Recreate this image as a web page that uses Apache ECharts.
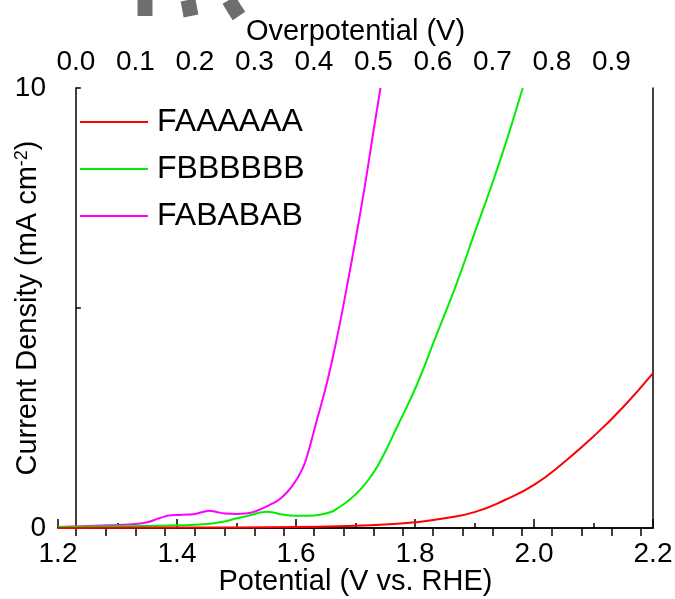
<!DOCTYPE html>
<html>
<head>
<meta charset="utf-8">
<script src="https://cdn.jsdelivr.net/npm/echarts@6/dist/echarts.min.js"></script>
<style>
  html, body { margin: 0; padding: 0; background: #fff; }
  #chart { width: 675px; height: 599px; }
</style>
</head>
<body>
<div id="chart"></div>
<script>
// potential (V vs. RHE) and current density (mA cm-2)
const redV = [1.2, 1.4, 1.6, 1.7, 1.75, 1.8, 1.85, 1.9, 1.95, 2.0, 2.05, 2.1, 2.15, 2.2]
const redJ = [0.0, 0.01, 0.02, 0.05, 0.08, 0.13, 0.22, 0.36, 0.63, 0.98, 1.49, 2.08, 2.75, 3.52]

const greenV = [1.2, 1.3, 1.4, 1.45, 1.48, 1.5, 1.52, 1.54, 1.55, 1.56, 1.575, 1.6, 1.62, 1.64, 1.66, 1.67, 1.69, 1.71, 1.725, 1.741, 1.77, 1.803, 1.835, 1.869, 1.9, 1.929, 1.955, 1.981]
const greenJ = [0.02, 0.04, 0.06, 0.09, 0.15, 0.22, 0.28, 0.35, 0.37, 0.36, 0.31, 0.28, 0.28, 0.3, 0.37, 0.45, 0.64, 0.9, 1.16, 1.5, 2.3, 3.25, 4.35, 5.52, 6.7, 7.8, 8.85, 10]

const magV = [1.2, 1.3, 1.33, 1.35, 1.37, 1.39, 1.41, 1.43, 1.445, 1.455, 1.465, 1.48, 1.5, 1.515, 1.53, 1.555, 1.575, 1.595, 1.61, 1.62, 1.635, 1.652, 1.67, 1.686, 1.7, 1.716, 1.73, 1.742]
const magJ = [0.02, 0.07, 0.09, 0.13, 0.22, 0.29, 0.3, 0.32, 0.37, 0.39, 0.37, 0.33, 0.32, 0.33, 0.37, 0.52, 0.68, 0.98, 1.32, 1.7, 2.45, 3.3, 4.4, 5.52, 6.55, 7.8, 9.0, 10]

const names = ['FAAAAAA', 'FBBBBBB', 'FABABAB']
const colors = ['#ff0000', '#00ee00', '#ff00ff']

const overLabels = [0, 0.1, 0.2, 0.3, 0.4, 0.5, 0.6, 0.7, 0.8, 0.9]
const overTicks = [0, 0.05, 0.1, 0.15, 0.2, 0.25, 0.3, 0.35, 0.4, 0.45, 0.5, 0.55, 0.6, 0.65, 0.7, 0.75, 0.8, 0.85, 0.9, 0.95]

function pairs(xs, ys) {
    return xs.map((x, i) => [x, ys[i]])
}

const font = 'Liberation Sans, Arial, sans-serif'
const axisLine = { show: true, lineStyle: { color: '#000', width: 1.5 } }

const chart = echarts.init(document.getElementById('chart'))

let option = {
    animation: false,
    textStyle: { fontFamily: font, color: '#000' },
    grid: { left: 58, right: 22, top: 88, bottom: 71, outerBoundsMode: 'none', containLabel: false },
    legend: {
        data: names,
        orient: 'vertical',
        left: 80,
        top: 104,
        padding: 0,
        itemGap: 11,
        itemWidth: 68,
        itemHeight: 2,
        icon: 'rect',
        textStyle: { fontFamily: font, fontSize: 32, color: '#000', lineHeight: 36, padding: [0, 0, 0, 4] },
    },
    xAxis: [
        {
            type: 'value',
            min: 1.2,
            max: 2.2,
            interval: 0.2,
            name: 'Potential (V vs. RHE)',
            nameLocation: 'middle',
            nameGap: 39,
            nameMoveOverlap: false,
            nameTextStyle: { fontSize: 29, color: '#000' },
            axisLine: axisLine,
            axisTick: { inside: true, length: 9, lineStyle: { color: '#000', width: 1.5 } },
            minorTick: { show: true, splitNumber: 2, length: 5, lineStyle: { color: '#000', width: 1.5 } },
            axisLabel: { fontSize: 28, color: '#000', margin: 12, formatter: (v) => v.toFixed(1) },
            splitLine: { show: false },
        },
        {
            type: 'value',
            position: 'top',
            min: -0.03,
            max: 0.97,
            name: 'Overpotential (V)',
            nameLocation: 'middle',
            nameGap: 42,
            nameMoveOverlap: false,
            nameTextStyle: { fontSize: 29, color: '#000' },
            axisLine: axisLine,
            axisTick: { inside: true, length: 8, customValues: overTicks, lineStyle: { color: '#000', width: 1.5 } },
            axisLabel: { fontSize: 28, color: '#000', margin: 12, customValues: overLabels, formatter: (v) => v.toFixed(1) },
            splitLine: { show: false },
        },
    ],
    yAxis: [
        {
            type: 'value',
            min: 0,
            max: 10,
            interval: 5,
            name: '{a|Current Density (mA cm}{s|-2}{a|)}',
            nameLocation: 'middle',
            nameGap: 15,
            nameMoveOverlap: false,
            nameTextStyle: {
                rich: {
                    a: { fontSize: 29, color: '#000', fontFamily: font },
                    s: { fontSize: 18, color: '#000', fontFamily: font, verticalAlign: 'top', padding: [0, 0, 12, 0] },
                },
            },
            axisLine: axisLine,
            axisTick: { inside: true, length: 5, lineStyle: { color: '#000', width: 1.5 } },
            axisLabel: { fontSize: 28, color: '#000', margin: 12, formatter: (v) => (v === 5 ? '' : String(v)) },
            splitLine: { show: false },
        },
        {
            type: 'value',
            position: 'right',
            min: 0,
            max: 10,
            axisLine: axisLine,
            axisTick: { show: false },
            axisLabel: { show: false },
            splitLine: { show: false },
        },
    ],
    graphic: [
        // grey fragments cut off at the top of the figure
        { type: 'polyline', shape: { points: [[145, 0], [145, 16]] }, style: { stroke: '#6e6e6e', lineWidth: 15, fill: null } },
        { type: 'polyline', shape: { points: [[188, 0], [191, 16]] }, style: { stroke: '#6e6e6e', lineWidth: 15, fill: null } },
        { type: 'polyline', shape: { points: [[229, 0], [235, 10], [239, 16]] }, style: { stroke: '#6e6e6e', lineWidth: 15, fill: null } },
    ],
    series: [
        { name: names[0], data: pairs(redV, redJ), z: 4 },
        { name: names[1], data: pairs(greenV, greenJ), z: 3 },
        { name: names[2], data: pairs(magV, magJ), z: 2 },
    ].map((item, i) => {
        return {
            ...item,
            type: 'line',
            xAxisIndex: 0,
            yAxisIndex: 0,
            smooth: 0.5,
            showSymbol: false,
            color: colors[i],
            lineStyle: { color: colors[i], width: 2 },
            clip: true,
        }
    }),
}

chart.setOption(option)
</script>
</body>
</html>
